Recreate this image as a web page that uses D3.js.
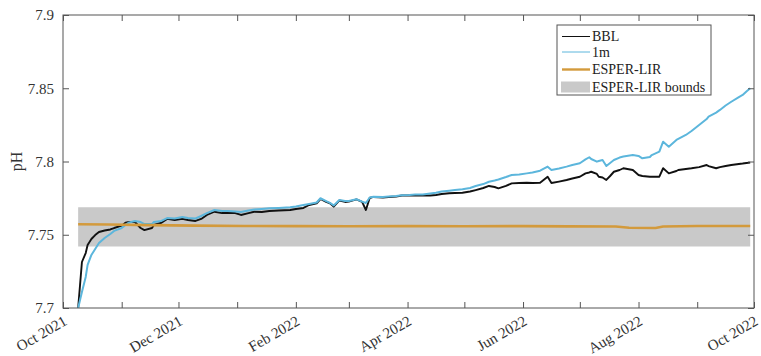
<!DOCTYPE html>
<html>
<head>
<meta charset="utf-8">
<script src="https://cdn.jsdelivr.net/npm/d3@7"></script>
<style>
  body { margin: 0; background: #fff; }
  svg { display: block; }
  text { font-family: "Liberation Serif", "Times New Roman", serif; }
</style>
</head>
<body>
<svg id="chart" width="761" height="356"></svg>
<script>
// Sensor records (daily-ish samples)
const dates = [
  "2021-10-09","2021-10-10","2021-10-11","2021-10-13","2021-10-14","2021-10-16","2021-10-18","2021-10-20",
  "2021-10-23","2021-10-26","2021-10-28","2021-11-01","2021-11-03","2021-11-05","2021-11-08","2021-11-11",
  "2021-11-13","2021-11-17","2021-11-18","2021-11-22","2021-11-25","2021-11-29","2021-12-03","2021-12-06",
  "2021-12-10","2021-12-13","2021-12-16","2021-12-20","2021-12-24","2021-12-27","2021-12-31","2022-01-03",
  "2022-01-07","2022-01-10","2022-01-14","2022-01-18","2022-01-23","2022-01-29","2022-02-01","2022-02-05",
  "2022-02-08","2022-02-12","2022-02-14","2022-02-17","2022-02-19","2022-02-21","2022-02-24","2022-02-27",
  "2022-03-01","2022-03-05","2022-03-08","2022-03-10","2022-03-12","2022-03-14","2022-03-19","2022-03-22",
  "2022-03-26","2022-03-29","2022-04-02","2022-04-05","2022-04-09","2022-04-13","2022-04-16","2022-04-19",
  "2022-04-23","2022-04-26","2022-04-30","2022-05-04","2022-05-07","2022-05-11","2022-05-14","2022-05-17",
  "2022-05-19","2022-05-23","2022-05-26","2022-05-30","2022-06-03","2022-06-06","2022-06-10","2022-06-14",
  "2022-06-16","2022-06-20","2022-06-24","2022-06-27","2022-07-01","2022-07-04","2022-07-06","2022-07-07",
  "2022-07-10","2022-07-11","2022-07-13","2022-07-15","2022-07-17","2022-07-19","2022-07-22","2022-07-24",
  "2022-07-29","2022-08-01","2022-08-03","2022-08-07","2022-08-08","2022-08-12","2022-08-14","2022-08-17",
  "2022-08-21","2022-08-22","2022-08-26","2022-08-29","2022-09-02","2022-09-06","2022-09-07","2022-09-11",
  "2022-09-13","2022-09-16","2022-09-19","2022-09-23","2022-09-25","2022-09-27","2022-09-29"
];

const bbl = [
  7.7000,7.7157,7.7314,7.7375,7.7430,7.7471,7.7498,7.7519,
  7.7529,7.7536,7.7546,7.7562,7.7582,7.7587,7.7587,7.7546,
  7.7532,7.7546,7.7567,7.7582,7.7608,7.7601,7.7608,7.7601,
  7.7594,7.7608,7.7635,7.7657,7.7648,7.7648,7.7648,7.7635,
  7.7648,7.7657,7.7655,7.7662,7.7666,7.7669,7.7676,7.7683,
  7.7703,7.7715,7.7744,7.7724,7.7715,7.7692,7.7734,7.7724,
  7.7726,7.7741,7.7724,7.7669,7.7751,7.7758,7.7754,7.7758,
  7.7761,7.7768,7.7768,7.7768,7.7768,7.7768,7.7771,7.7778,
  7.7783,7.7785,7.7787,7.7795,7.7805,7.7819,7.7833,7.7826,
  7.7817,7.7833,7.7851,7.7853,7.7855,7.7853,7.7855,7.7896,
  7.7853,7.7863,7.7874,7.7884,7.7896,7.7919,7.7925,7.7930,
  7.7915,7.7896,7.7891,7.7874,7.7901,7.7930,7.7942,7.7954,
  7.7942,7.7908,7.7901,7.7896,7.7896,7.7896,7.7954,7.7919,
  7.7935,7.7942,7.7949,7.7954,7.7962,7.7976,7.7969,7.7954,
  7.7962,7.7969,7.7976,7.7983,7.7986,7.7990,7.7992
];

const oneM = [
  7.7000,7.7055,7.7109,7.7212,7.7294,7.7362,7.7403,7.7444,
  7.7478,7.7505,7.7526,7.7546,7.7567,7.7584,7.7594,7.7587,
  7.7573,7.7573,7.7587,7.7594,7.7614,7.7611,7.7621,7.7614,
  7.7611,7.7628,7.7648,7.7669,7.7662,7.7662,7.7659,7.7655,
  7.7666,7.7672,7.7676,7.7681,7.7683,7.7687,7.7693,7.7703,
  7.7710,7.7720,7.7749,7.7730,7.7717,7.7700,7.7737,7.7730,
  7.7730,7.7742,7.7726,7.7717,7.7754,7.7760,7.7758,7.7761,
  7.7765,7.7770,7.7771,7.7775,7.7775,7.7782,7.7787,7.7795,
  7.7801,7.7805,7.7810,7.7819,7.7833,7.7846,7.7862,7.7870,
  7.7877,7.7894,7.7908,7.7911,7.7919,7.7925,7.7937,7.7965,
  7.7942,7.7952,7.7965,7.7976,7.7988,7.8014,7.8029,7.8017,
  7.7999,7.8003,7.8010,7.7969,7.7990,7.8010,7.8027,7.8034,
  7.8044,7.8038,7.8022,7.8031,7.8044,7.8067,7.8135,7.8101,
  7.8147,7.8154,7.8181,7.8208,7.8249,7.8290,7.8306,7.8334,
  7.8352,7.8382,7.8408,7.8440,7.8454,7.8478,7.8500
];

// ESPER-LIR estimate and its bounds
const esperDates = [
  "2021-10-09","2021-10-25","2021-11-15","2021-12-10","2022-01-05","2022-02-01","2022-03-01",
  "2022-04-01","2022-05-01","2022-06-01","2022-06-25","2022-07-20","2022-07-27","2022-08-10",
  "2022-08-14","2022-09-01","2022-09-29"
];
const esper = [
  7.7572,7.7570,7.7566,7.7562,7.7560,7.7559,7.7558,
  7.7559,7.7558,7.7559,7.7557,7.7556,7.7548,7.7546,
  7.7556,7.7560,7.7560
];
const boundsLow = [
  7.7420,7.7420,7.7420,7.7420,7.7420,7.7420,7.7420,
  7.7420,7.7420,7.7420,7.7420,7.7420,7.7420,7.7420,
  7.7420,7.7420,7.7420
];
const boundsHigh = [
  7.7687,7.7687,7.7687,7.7687,7.7687,7.7687,7.7687,
  7.7687,7.7687,7.7687,7.7687,7.7687,7.7687,7.7687,
  7.7687,7.7687,7.7687
];

const yTicks = [7.7, 7.75, 7.8, 7.85, 7.9];
const yTickLabels = ["7.7", "7.75", "7.8", "7.85", "7.9"];
const xStart = "2021-10-01", xEnd = "2022-10-01";
const xTickLabels = ["Oct 2021", "Dec 2021", "Feb 2022", "Apr 2022", "Jun 2022", "Aug 2022", "Oct 2022"];
const seriesNames = ["BBL", "1m", "ESPER-LIR", "ESPER-LIR bounds"];

const parse = d3.timeParse("%Y-%m-%d");
const svg = d3.select("#chart");
const m = { left: 63, right: 754, top: 15, bottom: 308 };

const x = d3.scaleTime().domain([parse(xStart), parse(xEnd)]).range([m.left, m.right]);
const y = d3.scaleLinear().domain([7.7, 7.9]).range([m.bottom, m.top]);

svg.append("defs").append("clipPath").attr("id", "plotClip")
  .append("rect").attr("x", m.left).attr("y", m.top)
  .attr("width", m.right - m.left).attr("height", m.bottom - m.top);

const plot = svg.append("g").attr("clip-path", "url(#plotClip)");

// bounds band
const band = esperDates.map((d, i) => ({ t: parse(d), lo: boundsLow[i], hi: boundsHigh[i] }));
plot.append("path").datum(band)
  .attr("fill", "#c9c9c9")
  .attr("d", d3.area().x(d => x(d.t)).y0(d => y(d.lo)).y1(d => y(d.hi)));

const line = d3.line().x(d => x(d.t)).y(d => y(d.v));

const bblData = dates.map((d, i) => ({ t: parse(d), v: bbl[i] }));
const oneMData = dates.map((d, i) => ({ t: parse(d), v: oneM[i] }));
const esperData = esperDates.map((d, i) => ({ t: parse(d), v: esper[i] }));

plot.append("path").datum(bblData)
  .attr("fill", "none").attr("stroke", "#111").attr("stroke-width", 1.9)
  .attr("stroke-linejoin", "round").attr("d", line);
plot.append("path").datum(oneMData)
  .attr("fill", "none").attr("stroke", "#5cb6dc").attr("stroke-width", 2)
  .attr("stroke-linejoin", "round").attr("d", line);
plot.append("path").datum(esperData)
  .attr("fill", "none").attr("stroke", "#d39a3c").attr("stroke-width", 2.6)
  .attr("stroke-linejoin", "round").attr("d", line);

// axes box with inward ticks
const axisColor = "#555";
const months = d3.timeMonth.range(parse(xStart), d3.timeDay.offset(parse(xEnd), 1));
const tickLen = 6;

const frame = svg.append("g");
frame.append("rect")
  .attr("x", m.left).attr("y", m.top)
  .attr("width", m.right - m.left).attr("height", m.bottom - m.top)
  .attr("fill", "none").attr("stroke", axisColor).attr("stroke-width", 1);

const xAxisBottom = d3.axisBottom(x).tickValues(months).tickSize(-tickLen).tickFormat("");
const xAxisTop = d3.axisTop(x).tickValues(months).tickSize(-tickLen).tickFormat("");
const yAxisLeft = d3.axisLeft(y).tickValues(yTicks).tickSize(-tickLen).tickFormat("");
const yAxisRight = d3.axisRight(y).tickValues(yTicks).tickSize(-tickLen).tickFormat("");

[[xAxisBottom, `translate(0,${m.bottom})`], [xAxisTop, `translate(0,${m.top})`],
 [yAxisLeft, `translate(${m.left},0)`], [yAxisRight, `translate(${m.right},0)`]].forEach(([ax, tr]) => {
  const g = frame.append("g").attr("transform", tr).call(ax);
  g.select(".domain").remove();
  g.selectAll(".tick line").attr("stroke", axisColor);
});

// y tick labels
svg.append("g").selectAll("text").data(yTicks).join("text")
  .attr("x", m.left - 9).attr("y", d => y(d))
  .attr("dy", "0.35em").attr("text-anchor", "end")
  .attr("font-size", 15).attr("fill", "#333")
  .text((d, i) => yTickLabels[i]);

// x tick labels, every second month, rotated
const labelMonths = months.filter((d, i) => i % 2 === 0);
svg.append("g").selectAll("text").data(labelMonths).join("text")
  .attr("transform", d => `translate(${x(d) + 5},${m.bottom + 16}) rotate(-30)`)
  .attr("text-anchor", "end")
  .attr("font-size", 15).attr("fill", "#333")
  .text((d, i) => xTickLabels[i]);

// y axis title
svg.append("text")
  .attr("transform", `translate(22,${(m.top + m.bottom) / 2}) rotate(-90)`)
  .attr("text-anchor", "middle")
  .attr("font-size", 16).attr("fill", "#333")
  .text("pH");

// legend
const lg = svg.append("g").attr("transform", "translate(557,25)");
lg.append("rect").attr("width", 154).attr("height", 70)
  .attr("fill", "#fff").attr("stroke", "#555").attr("stroke-width", 1);
const rowY = [11.5, 27, 44.5, 62];
const swatch = [
  { type: "line", color: "#111", w: 1 },
  { type: "line", color: "#5cb6dc", w: 1 },
  { type: "line", color: "#d39a3c", w: 2.4 },
  { type: "rect", color: "#c9c9c9" }
];
seriesNames.forEach((name, i) => {
  const s = swatch[i];
  if (s.type === "line") {
    lg.append("line").attr("x1", 5).attr("x2", 33).attr("y1", rowY[i]).attr("y2", rowY[i])
      .attr("stroke", s.color).attr("stroke-width", s.w);
  } else {
    lg.append("rect").attr("x", 4).attr("y", rowY[i] - 5.5).attr("width", 29).attr("height", 11)
      .attr("fill", s.color);
  }
  lg.append("text").attr("x", 35).attr("y", rowY[i]).attr("dy", "0.35em")
    .attr("font-size", 14).attr("fill", "#222").text(name);
});
</script>
</body>
</html>
